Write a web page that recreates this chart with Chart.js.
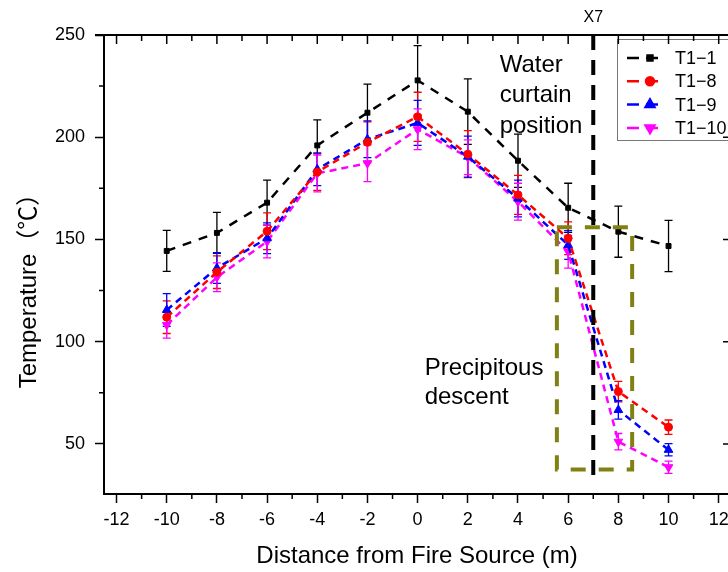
<!DOCTYPE html>
<html>
<head>
<meta charset="utf-8">
<script src="https://cdn.jsdelivr.net/npm/chart.js@4.4.1/dist/chart.umd.min.js"></script>
<style>
  html, body { margin: 0; padding: 0; background: #fff; overflow: hidden; }
  #wrap { width: 728px; height: 572px; overflow: hidden; }
  canvas { display: block; }
</style>
</head>
<body>
<div id="wrap"><canvas id="myChart" width="740" height="572"></canvas></div>
<script>
// distance from the fire source (m)
const distance = [-10, -8, -6, -4, -2, 0, 2, 4, 6, 8, 10];

// measured temperatures and their error bars
const t1_1 = [144.4, 153.2, 168, 196, 212, 227.8, 212.5, 188.5, 165.5, 153.8, 146.8];
const t1_1Err = [10, 10, 11, 12.5, 14, 17, 16, 13, 12, 12.5, 12.5];
const t1_8 = [112, 134, 154, 183, 197.5, 210, 191.7, 171.8, 150.6, 75.6, 58.2];
const t1_8Err = [8, 8, 9, 9, 10, 12, 11.5, 9.5, 8, 5, 3.5];
const t1_9 = [115.5, 136, 150.6, 184.3, 199, 207, 190.5, 170, 147.3, 66.6, 47.1];
const t1_9Err = [8, 7.5, 7.5, 8, 9, 11, 10, 9, 7, 4.5, 3];
const t1_10 = [108.2, 131.5, 149, 182.3, 187.3, 203.9, 190.2, 168.5, 144, 51.1, 38.6];
const t1_10Err = [6.5, 7, 8, 9, 9, 10, 8.5, 9, 8, 4, 3];

const seriesNames = ['T1\u22121', 'T1\u22128', 'T1\u22129', 'T1\u221210'];

const xTicks = [-12, -10, -8, -6, -4, -2, 0, 2, 4, 6, 8, 10, 12];
const yTicks = [50, 100, 150, 200, 250];

const FONT = "Arial, 'Liberation Sans', 'Noto Sans CJK SC', sans-serif";

function makeSet(label, values, errs, color, style, radius, rotation, dash) {
  return {
    label: label,
    data: distance.map((x, i) => ({ x: x, y: values[i] })),
    errors: errs,
    borderColor: color,
    backgroundColor: color,
    borderWidth: 2.5,
    borderDash: dash,
    pointStyle: style,
    pointRadius: radius,
    pointRotation: rotation,
    pointBorderWidth: 1,
    tension: 0
  };
}

const datasets = [
  makeSet(seriesNames[0], t1_1, t1_1Err, '#000000', 'rect', 3.5, 0, [9, 8]),
  makeSet(seriesNames[1], t1_8, t1_8Err, '#ff0000', 'circle', 4, 0, [7, 5]),
  makeSet(seriesNames[2], t1_9, t1_9Err, '#0000ff', 'triangle', 5, 0, [7, 5]),
  makeSet(seriesNames[3], t1_10, t1_10Err, '#ff00ff', 'triangle', 5, 180, [7, 5])
];

// error bars under the markers
const errorBars = {
  id: 'errorBars',
  beforeDatasetsDraw(chart) {
    const ctx = chart.ctx;
    const xs = chart.scales.x, ys = chart.scales.y;
    ctx.save();
    chart.data.datasets.forEach(ds => {
      ctx.strokeStyle = ds.borderColor;
      ctx.lineWidth = 1.3;
      ctx.setLineDash([]);
      ds.data.forEach((p, i) => {
        const px = xs.getPixelForValue(p.x);
        const top = ys.getPixelForValue(p.y + ds.errors[i]);
        const bot = ys.getPixelForValue(p.y - ds.errors[i]);
        ctx.beginPath();
        ctx.moveTo(px, top); ctx.lineTo(px, bot);
        ctx.moveTo(px - 4, top); ctx.lineTo(px + 4, top);
        ctx.moveTo(px - 4, bot); ctx.lineTo(px + 4, bot);
        ctx.stroke();
      });
    });
    ctx.restore();
  }
};

// frame: top/right mirror axes and minor ticks
const frame = {
  id: 'frame',
  afterDraw(chart) {
    const ctx = chart.ctx;
    const xs = chart.scales.x, ys = chart.scales.y;
    const a = chart.chartArea;
    ctx.save();
    ctx.strokeStyle = '#000';
    ctx.setLineDash([]);
    ctx.lineWidth = 2;
    ctx.beginPath();
    ctx.moveTo(a.left - 9, a.top); ctx.lineTo(a.right, a.top);
    ctx.moveTo(a.right, a.top); ctx.lineTo(a.right, a.bottom);
    ctx.stroke();
    ctx.lineWidth = 1.5;
    ctx.beginPath();
    for (let v = -12; v <= 12; v++) {
      const px = xs.getPixelForValue(v);
      const major = v % 2 === 0;
      ctx.moveTo(px, a.top); ctx.lineTo(px, a.top + (major ? 9 : 6));
      if (!major) { ctx.moveTo(px, a.bottom); ctx.lineTo(px, a.bottom + 5); }
    }
    for (let v = 50; v <= 250; v += 25) {
      const py = ys.getPixelForValue(v);
      const major = v % 50 === 0;
      if (major) { ctx.moveTo(a.right, py); ctx.lineTo(a.right - 7, py); }
      else { ctx.moveTo(a.left, py); ctx.lineTo(a.left - 5, py); }
    }
    ctx.stroke();

    // y axis title
    ctx.fillStyle = '#000';
    ctx.font = '24px ' + FONT;
    ctx.textAlign = 'center';
    ctx.textBaseline = 'middle';
    ctx.translate(29, 285);
    ctx.rotate(-Math.PI / 2);
    ctx.fillText('Temperature\uff08\u2103\uff09', 0, 0);
    ctx.restore();
  }
};

// water curtain line, descent box and notes
const notes = {
  id: 'notes',
  afterDatasetsDraw(chart) {
    const ctx = chart.ctx;
    const xs = chart.scales.x, ys = chart.scales.y;
    ctx.save();
    ctx.lineWidth = 4;
    ctx.strokeStyle = '#000';
    ctx.setLineDash([15, 10]);
    ctx.beginPath();
    ctx.moveTo(xs.getPixelForValue(7), ys.getPixelForValue(250));
    ctx.lineTo(xs.getPixelForValue(7), ys.getPixelForValue(31.5));
    ctx.stroke();

    ctx.strokeStyle = '#808015';
    ctx.setLineDash([15, 13]);
    const x0 = xs.getPixelForValue(5.55), x1 = xs.getPixelForValue(8.55);
    const y0 = ys.getPixelForValue(156), y1 = ys.getPixelForValue(37.5);
    ctx.strokeRect(x0, y0, x1 - x0, y1 - y0);
    ctx.setLineDash([]);

    ctx.fillStyle = '#000';
    ctx.font = '24px ' + FONT;
    ctx.textAlign = 'left';
    ctx.textBaseline = 'middle';
    const wx = xs.getPixelForValue(3.27), wy = ys.getPixelForValue(235.3);
    ['Water', 'curtain', 'position'].forEach((t, i) => ctx.fillText(t, wx, wy + i * 30.5));
    const px = xs.getPixelForValue(0.28), py = ys.getPixelForValue(86.7);
    ['Precipitous', 'descent'].forEach((t, i) => ctx.fillText(t, px, py + i * 29));

    ctx.font = '16px ' + FONT;
    ctx.textAlign = 'center';
    ctx.fillText('X7', xs.getPixelForValue(7), 18);
    ctx.restore();
  },
  afterDraw(chart) {
    // legend box
    const ctx = chart.ctx;
    ctx.save();
    ctx.fillStyle = '#fff';
    ctx.fillRect(617, 39, 140, 101);
    ctx.strokeStyle = '#777';
    ctx.lineWidth = 1;
    ctx.strokeRect(617.5, 39.5, 140, 101);
    chart.data.datasets.forEach((ds, i) => {
      const y = 58 + i * 23.3;
      ctx.strokeStyle = ds.borderColor;
      ctx.lineWidth = 2.5;
      ctx.setLineDash([12, 7]);
      ctx.beginPath();
      ctx.moveTo(627, y); ctx.lineTo(663, y);
      ctx.stroke();
      ctx.setLineDash([]);
      ctx.fillStyle = ds.backgroundColor;
      Chart.helpers.drawPoint(ctx, {
        pointStyle: ds.pointStyle, radius: ds.pointRadius,
        rotation: ds.pointRotation, borderWidth: 1
      }, 650, y);
      ctx.fillStyle = '#000';
      ctx.font = '18px ' + FONT;
      ctx.textAlign = 'left';
      ctx.textBaseline = 'middle';
      ctx.fillText(ds.label, 675, y + 1);
    });
    ctx.restore();
  }
};

const ctx = document.getElementById('myChart').getContext('2d');
const chart = new Chart(ctx, {
  type: 'line',
  data: { datasets: datasets },
  plugins: [errorBars, notes, frame],
  options: {
    responsive: false,
    animation: false,
    devicePixelRatio: 1,
    layout: { padding: { top: 35, right: 10, left: 0, bottom: 0 } },
    plugins: { legend: { display: false }, tooltip: { enabled: false } },
    scales: {
      x: {
        type: 'linear',
        min: -12.5,
        max: 12.45,
        afterBuildTicks: s => { s.ticks = xTicks.map(v => ({ value: v })); },
        afterFit: s => { s.height = 78; },
        grid: { drawOnChartArea: false, drawTicks: true, tickLength: 9, tickColor: '#000', tickWidth: 1.5 },
        border: { color: '#000', width: 2 },
        ticks: {
          font: { size: 18, family: FONT }, color: '#000', padding: 6,
          maxRotation: 0, autoSkip: false, callback: v => String(v)
        },
        title: {
          display: true, text: 'Distance from Fire Source (m)',
          font: { size: 24, family: FONT }, color: '#000', padding: { top: 0, bottom: 1 }
        }
      },
      y: {
        type: 'linear',
        min: 25.5,
        max: 250,
        afterBuildTicks: s => { s.ticks = yTicks.map(v => ({ value: v })); },
        afterFit: s => { s.width = 104; },
        grid: { drawOnChartArea: false, drawTicks: true, tickLength: 9, tickColor: '#000', tickWidth: 1.5 },
        border: { color: '#000', width: 2 },
        ticks: { font: { size: 18, family: FONT }, color: '#000', padding: 10 }
      }
    }
  }
});
</script>
</body>
</html>
